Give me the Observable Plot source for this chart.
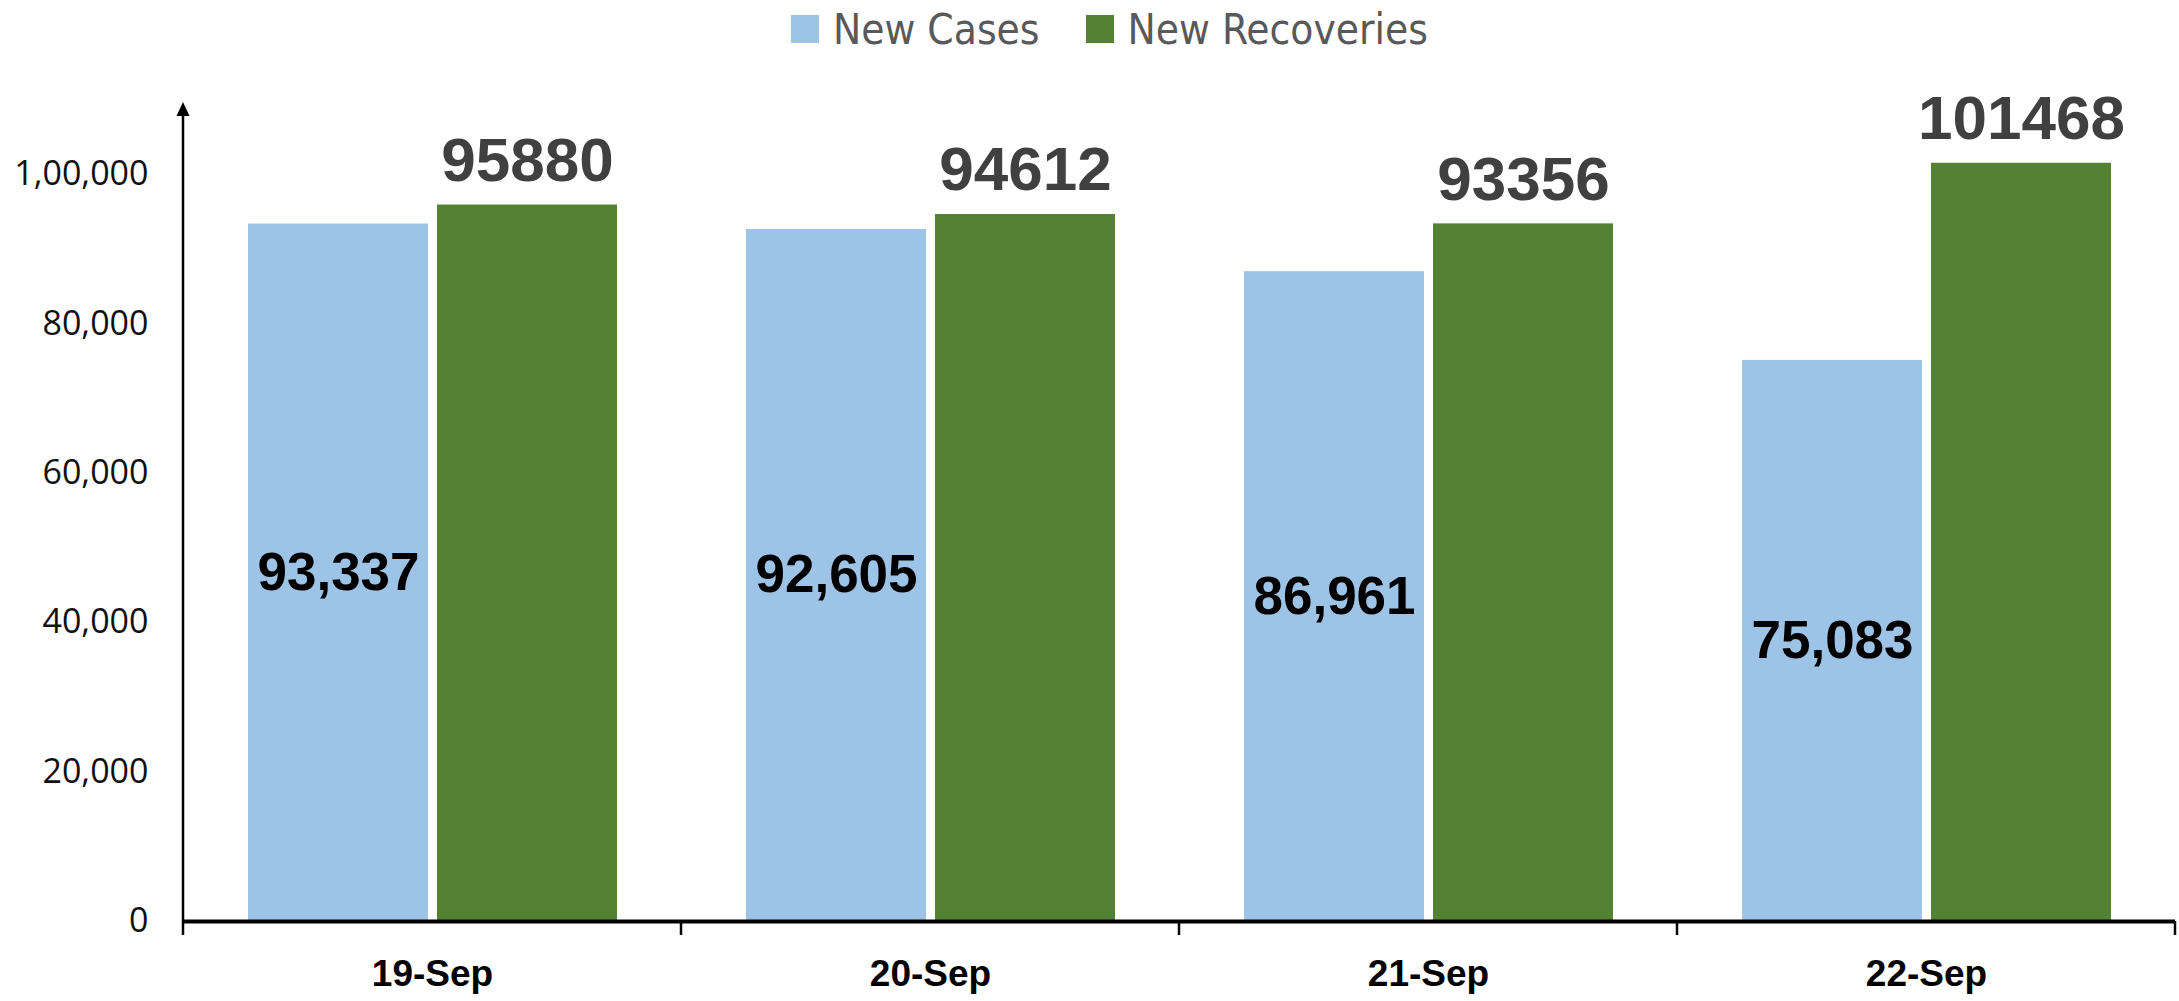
<!DOCTYPE html>
<html>
<head>
<meta charset="utf-8">
<script src="https://cdn.jsdelivr.net/npm/d3@7"></script>
<script src="https://cdn.jsdelivr.net/npm/@observablehq/plot@0.6"></script>
<style>
  html, body { margin: 0; padding: 0; background: #fff; }
  #wrap { width: 2179px; height: 1001px; overflow: hidden; }
  #legend { height: 58px; display: flex; justify-content: center; align-items: center; gap: 46px; padding-left: 40px; box-sizing: border-box;
    font-family: "DejaVu Sans Condensed", "Liberation Sans", sans-serif; font-size: 42px; color: #595959; }
  .item { display: flex; align-items: center; gap: 14px; }
  .sw { width: 28px; height: 28px; display: inline-block; }
</style>
</head>
<body>
<div id="wrap">
  <div id="legend"></div>
  <div id="chart"></div>
</div>
<script>
const dates = ["19-Sep", "20-Sep", "21-Sep", "22-Sep"];
const newCases = [93337, 92605, 86961, 75083];
const newRecoveries = [95880, 94612, 93356, 101468];
const seriesNames = ["New Cases", "New Recoveries"];
const seriesColors = ["#9DC3E6", "#548235"];
const yTicks = [0, 20000, 40000, 60000, 80000, 100000];
const yMax = 110000;

const rows = dates.flatMap((d, i) => [
  {date: d, series: seriesNames[0], value: newCases[i]},
  {date: d, series: seriesNames[1], value: newRecoveries[i]}
]);

// Legend
const legend = d3.select("#legend");
seriesNames.forEach((s, i) => {
  const it = legend.append("div").attr("class", "item");
  it.append("span").attr("class", "sw").style("background", seriesColors[i]);
  it.append("span").text(s);
});

const arial = "'Liberation Sans', Arial, sans-serif";

const chart = Plot.plot({
  width: 2179,
  height: 943,
  marginLeft: 182,
  marginRight: 4,
  marginTop: 41,
  marginBottom: 80,
  style: {fontFamily: "'Open Sans', 'Noto Sans', sans-serif", fontSize: "34px", color: "#000", background: "#fff"},
  fx: {domain: dates, padding: 0, label: null},
  x: {domain: seriesNames, paddingInner: 0.05, paddingOuter: 0.342, axis: null},
  y: {domain: [0, yMax], label: null},
  color: {domain: seriesNames, range: seriesColors},
  marks: [
    Plot.axisY({ticks: yTicks, tickFormat: d => d.toLocaleString("en-IN"), tickSize: 0, tickPadding: 35, label: null, fontSize: 34, fill: "#111"}),
    Plot.axisFx({anchor: "bottom", tickSize: 0, tickPadding: 38, label: null, fontSize: 37, fontWeight: "bold", fontFamily: arial, fill: "#000"}),
    Plot.barY(rows, {fx: "date", x: "series", y: "value", fill: "series"}),
    Plot.ruleY([0], {stroke: "#000", strokeWidth: 4}),
    Plot.text(rows.filter(r => r.series === seriesNames[0]), {
      fx: "date", x: "series", y: r => r.value / 2,
      text: r => r.value.toLocaleString("en-US"),
      fontSize: 53, fontWeight: "bold", fontFamily: arial, fill: "#000"
    }),
    Plot.text(rows.filter(r => r.series === seriesNames[1]), {
      fx: "date", x: "series", y: "value",
      text: r => String(r.value), lineAnchor: "bottom", dy: -24,
      fontSize: 62, fontWeight: "bold", fontFamily: arial, fill: "#404040"
    })
  ]
});
document.getElementById("chart").appendChild(chart);

// Category boundary ticks and y-axis arrow, positioned from Plot's scales
const fx = chart.scale("fx");
const y = chart.scale("y");
const svg = d3.select(chart);
const y0 = y.apply(0);
const bounds = dates.map(d => fx.apply(d)).concat([fx.apply(dates[dates.length - 1]) + fx.bandwidth]);
const g = svg.append("g").attr("stroke", "#000");
bounds.forEach(bx => {
  g.append("line").attr("x1", bx).attr("x2", bx).attr("y1", y0).attr("y2", y0 + 14).attr("stroke-width", 2.5);
});
const ax = bounds[0];
const yTop = y.apply(yMax) + 3;
g.append("line").attr("x1", ax).attr("x2", ax).attr("y1", y0).attr("y2", yTop + 10).attr("stroke-width", 2.5);
svg.append("path").attr("d", `M${ax},${yTop} L${ax - 6.5},${yTop + 14} L${ax + 6.5},${yTop + 14} Z`).attr("fill", "#000");
</script>
</body>
</html>
